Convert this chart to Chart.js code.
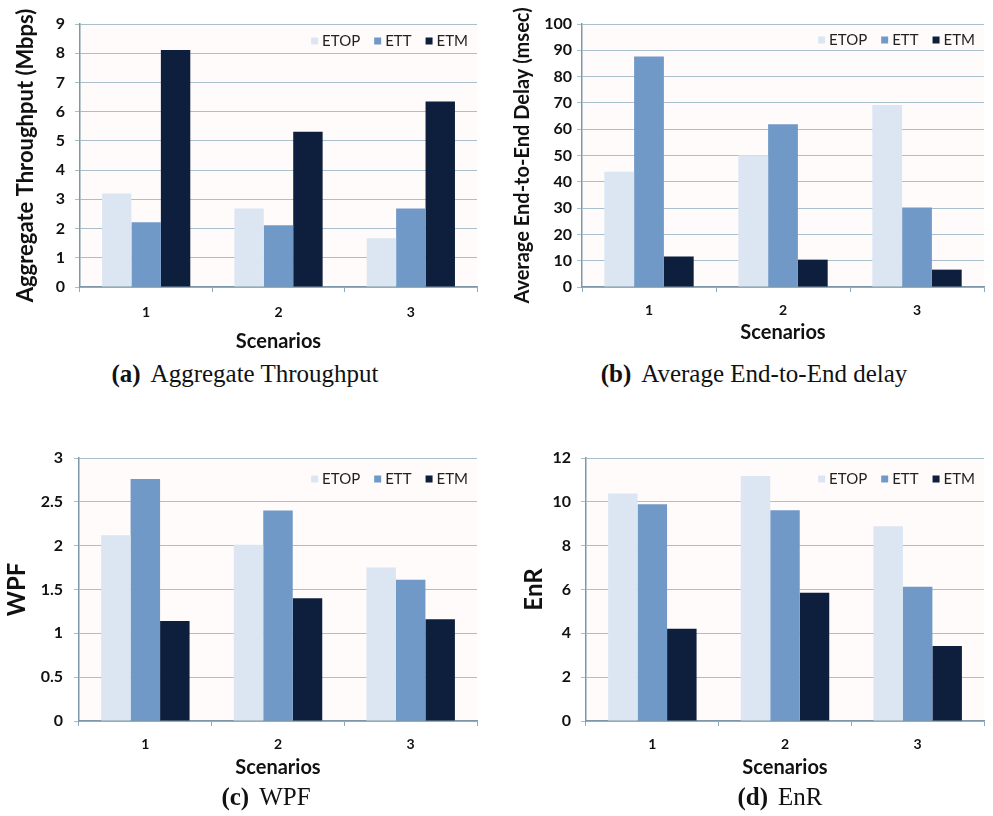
<!DOCTYPE html>
<html lang="en">
<head>
<meta charset="UTF-8">
<title>ETOP / ETT / ETM comparison</title>
<script src="https://cdn.jsdelivr.net/npm/chart.js"></script>
<style>
  body { margin: 0; background: #fff; width: 993px; height: 816px; position: relative; overflow: hidden; }
  .panel { position: absolute; }
  .caption { position: absolute; font-family: "Liberation Serif", "Times New Roman", serif; font-size: 25px; color: #111;
             white-space: nowrap; transform: translate(-50%, -50%); }
  .caption b { margin-right: 10px; }
</style>
</head>
<body>
<div class="panel" style="left:0;top:0;width:490px;height:360px"><canvas id="chartA"></canvas></div>
<div class="panel" style="left:495px;top:0;width:498px;height:360px"><canvas id="chartB"></canvas></div>
<div class="panel" style="left:0;top:400px;width:490px;height:390px"><canvas id="chartC"></canvas></div>
<div class="panel" style="left:495px;top:400px;width:498px;height:390px"><canvas id="chartD"></canvas></div>

<div class="caption" style="left:245px;top:374px"><b>(a)</b>Aggregate Throughput</div>
<div class="caption" style="left:754px;top:374px"><b>(b)</b>Average End-to-End delay</div>
<div class="caption" style="left:266px;top:797px"><b>(c)</b>WPF</div>
<div class="caption" style="left:780px;top:797px"><b>(d)</b>EnR</div>

<script>
// categories and series
const scenarios = ['1', '2', '3'];
const seriesNames = ['ETOP', 'ETT', 'ETM'];

// (a) aggregate throughput, Mbps
const throughputETOP = [3.2, 2.69, 1.67];
const throughputETT  = [2.22, 2.11, 2.69];
const throughputETM  = [8.11, 5.31, 6.35];

// (b) average end-to-end delay, msec
const delayETOP = [43.8, 50.1, 69.2];
const delayETT  = [87.6, 61.9, 30.2];
const delayETM  = [11.6, 10.4, 6.6];

// (c) WPF
const wpfETOP = [2.12, 2.01, 1.75];
const wpfETT  = [2.76, 2.40, 1.61];
const wpfETM  = [1.14, 1.40, 1.16];

// (d) EnR
const enrETOP = [10.38, 11.18, 8.89];
const enrETT  = [9.89, 9.62, 6.12];
const enrETM  = [4.21, 5.85, 3.42];

const barColors = ['#dce6f2', '#7099c8', '#0e1f3d'];
const FONT = 'Lato, "Open Sans", sans-serif';

// faint plot background
const plotBg = {
  id: 'plotBg',
  beforeDraw(chart) {
    const a = chart.chartArea, ctx = chart.ctx;
    ctx.save();
    ctx.fillStyle = '#fffbfa';
    ctx.fillRect(a.left, a.top, a.right - a.left, a.bottom - a.top);
    ctx.restore();
  }
};

// legend drawn inside the plot, top right, like the Excel original
const insideLegend = {
  id: 'insideLegend',
  afterDatasetsDraw(chart, args, opts) {
    const ctx = chart.ctx, a = chart.chartArea;
    ctx.save();
    ctx.font = '15px ' + FONT;
    const box = 7, gapText = 4, gapItem = 14;
    const items = chart.data.datasets.map(ds => ({
      label: ds.label, color: ds.backgroundColor, w: ctx.measureText(ds.label).width
    }));
    const total = items.reduce((s, it) => s + box + gapText + it.w, 0) + gapItem * (items.length - 1);
    let x = a.right - 9 - total;
    const y = a.top + (opts.dy || 17);
    ctx.textBaseline = 'middle';
    items.forEach(it => {
      ctx.fillStyle = it.color;
      ctx.fillRect(x, y - box / 2, box, box);
      x += box + gapText;
      ctx.fillStyle = '#222';
      ctx.fillText(it.label, x, y);
      x += it.w + gapItem;
    });
    ctx.restore();
  }
};

function makeChart(id, p) {
  const datasets = p.values.map((vals, i) => ({
    label: seriesNames[i],
    data: vals,
    backgroundColor: barColors[i],
    borderWidth: 0,
    categoryPercentage: 0.667,
    barPercentage: 1
  }));
  return new Chart(document.getElementById(id), {
    type: 'bar',
    data: { labels: scenarios, datasets: datasets },
    plugins: [plotBg, insideLegend],
    options: {
      responsive: true,
      maintainAspectRatio: false,
      animation: false,
      layout: { padding: { top: p.padTop, right: p.padRight, left: 0, bottom: 0 } },
      plugins: {
        legend: { display: false },
        tooltip: { enabled: false },
        insideLegend: { dy: p.legendDy }
      },
      scales: {
        x: {
          grid: { display: true, drawOnChartArea: false, color: '#8fa9b8', tickLength: 5, offset: true },
          border: { color: '#7d98a8', width: 1.5 },
          ticks: { color: '#111', padding: p.xLabelPad, font: { family: FONT, size: 14, weight: 'bold' } },
          title: { display: true, text: 'Scenarios', color: '#111',
                   font: { family: FONT, size: 20, weight: 'bold' }, padding: { top: 0, bottom: p.xTitlePad } },
          afterFit(scale) { scale.height = p.xHeight; }
        },
        y: {
          min: 0, max: p.max,
          grid: { color: '#a9c0cc', tickLength: 5 },
          border: { color: '#7d98a8', width: 1.5 },
          ticks: { stepSize: p.step, color: '#111', padding: p.yLabelPad,
                   font: { family: FONT, size: 16, weight: 'bold' },
                   callback: v => String(Math.round(v * 100) / 100) },
          title: { display: true, text: p.yTitle, color: '#111',
                   font: { family: FONT, size: p.yTitleSize, weight: 'bold' }, padding: { top: p.yTitlePad, bottom: 0 } },
          afterFit(scale) { scale.width = p.yWidth; }
        }
      }
    }
  });
}

makeChart('chartA', {
  values: [throughputETOP, throughputETT, throughputETM], max: 9, step: 1,
  yTitle: 'Aggregate Throughput (Mbps)', yTitleSize: 22, yTitlePad: 13, yWidth: 80, yLabelPad: 10,
  padTop: 24, padRight: 13, xHeight: 73, xLabelPad: 12, xTitlePad: 6, legendDy: 17
});
makeChart('chartB', {
  values: [delayETOP, delayETT, delayETM], max: 100, step: 10,
  yTitle: 'Average End-to-End Delay (msec)', yTitleSize: 20, yTitlePad: 16, yWidth: 87, yLabelPad: 5,
  padTop: 24, padRight: 9, xHeight: 73, xLabelPad: 10, xTitlePad: 15, legendDy: 16
});
makeChart('chartC', {
  values: [wpfETOP, wpfETT, wpfETM], max: 3, step: 0.5,
  yTitle: 'WPF', yTitleSize: 24, yTitlePad: 3, yWidth: 79, yLabelPad: 11,
  padTop: 58, padRight: 13, xHeight: 69, xLabelPad: 10, xTitlePad: 10, legendDy: 21
});
makeChart('chartD', {
  values: [enrETOP, enrETT, enrETM], max: 12, step: 2,
  yTitle: 'EnR', yTitleSize: 24, yTitlePad: 25, yWidth: 91, yLabelPad: 10,
  padTop: 58, padRight: 9, xHeight: 69, xLabelPad: 10, xTitlePad: 10, legendDy: 21
});
</script>
</body>
</html>
